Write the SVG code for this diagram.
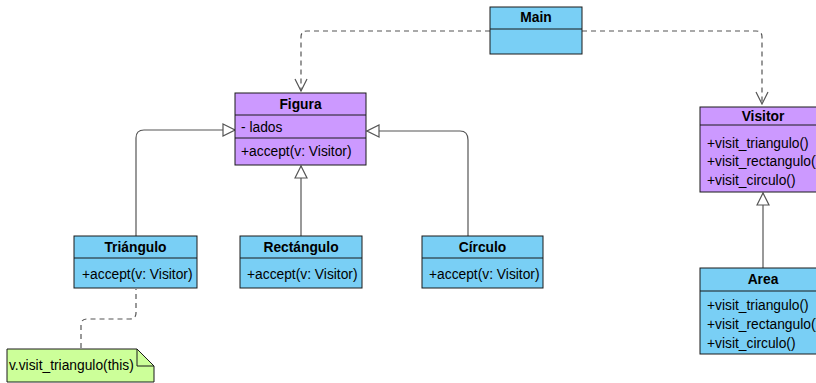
<svg xmlns="http://www.w3.org/2000/svg" width="816" height="383" viewBox="0 0 816 383">
  <style>
    text { font-family: "Liberation Sans", Arial, sans-serif; font-size: 13.8px; fill: #000; }
    .title { font-weight: bold; text-anchor: middle; }
    .blue { fill: #79CFF5; stroke: #1a1a1a; stroke-width: 1; }
    .purple { fill: #CC99FF; stroke: #1a1a1a; stroke-width: 1; }
    .note { fill: #CCFF99; stroke: #1a1a1a; stroke-width: 1; }
    .sep { stroke: #1a1a1a; stroke-width: 1; fill: none; }
    .inherit { fill: none; stroke: #555; stroke-width: 1.2; marker-end: url(#hollow); }
    .dep { fill: none; stroke: #555; stroke-width: 1.2; stroke-dasharray: 5 4; marker-end: url(#open); }
    .link { fill: none; stroke: #555; stroke-width: 1.2; stroke-dasharray: 5 4; }
  </style>
  <defs>
    <marker id="hollow" viewBox="0 0 14 14" refX="13" refY="7" markerWidth="14" markerHeight="14" markerUnits="userSpaceOnUse" orient="auto">
      <path d="M1,1 L13,7 L1,13 Z" fill="#fff" stroke="#555" stroke-width="1.2"/>
    </marker>
    <marker id="open" viewBox="0 0 14 14" refX="13" refY="7" markerWidth="14" markerHeight="14" markerUnits="userSpaceOnUse" orient="auto">
      <path d="M1,1 L13,7 L1,13" fill="none" stroke="#555" stroke-width="1.2"/>
    </marker>
  </defs>

  <g id="connectors">
    <path class="dep" d="M490,31 H307 Q301,31 301,37 V91"/>
    <path class="dep" d="M582,31 H756 Q762,31 762,37 V104"/>
    <path class="inherit" d="M136,236 V138 Q136,130 144,130 H235"/>
    <path class="inherit" d="M301,236 V166"/>
    <path class="inherit" d="M468,236 V140 Q468,131 460,131 H367"/>
    <path class="inherit" d="M763,268 V193"/>
    <path class="link" d="M81,348 V325 Q81,319 87,319 H130 Q136,319 136,313 V289"/>
  </g>

  <g id="main">
    <rect class="blue" x="490" y="7" width="92" height="47"/>
    <line class="sep" x1="490" y1="29" x2="582" y2="29"/>
    <text class="title" x="536" y="22">Main</text>
  </g>

  <g id="figura">
    <rect class="purple" x="235" y="93" width="131" height="72"/>
    <line class="sep" x1="235" y1="115" x2="366" y2="115"/>
    <line class="sep" x1="235" y1="138" x2="366" y2="138"/>
    <text class="title" x="300.5" y="109">Figura</text>
    <text x="241" y="132">- lados</text>
    <text x="241" y="156">+accept(v: Visitor)</text>
  </g>

  <g id="triangulo">
    <rect class="blue" x="74" y="236" width="123" height="52"/>
    <line class="sep" x1="74" y1="258" x2="197" y2="258"/>
    <text class="title" x="135.5" y="252">Triángulo</text>
    <text x="82" y="279">+accept(v: Visitor)</text>
  </g>

  <g id="rectangulo">
    <rect class="blue" x="240" y="236" width="122" height="52"/>
    <line class="sep" x1="240" y1="258" x2="362" y2="258"/>
    <text class="title" x="301" y="252">Rectángulo</text>
    <text x="247" y="279">+accept(v: Visitor)</text>
  </g>

  <g id="circulo">
    <rect class="blue" x="422" y="236" width="121" height="52"/>
    <line class="sep" x1="422" y1="258" x2="543" y2="258"/>
    <text class="title" x="482.5" y="252">Círculo</text>
    <text x="429" y="279">+accept(v: Visitor)</text>
  </g>

  <g id="visitor">
    <rect class="purple" x="700" y="107" width="126" height="85"/>
    <line class="sep" x1="700" y1="125" x2="826" y2="125"/>
    <text class="title" x="763" y="121">Visitor</text>
    <text x="707" y="148">+visit_triangulo()</text>
    <text x="707" y="166">+visit_rectangulo()</text>
    <text x="707" y="185">+visit_circulo()</text>
  </g>

  <g id="area">
    <rect class="blue" x="700" y="268" width="126" height="86"/>
    <line class="sep" x1="700" y1="291" x2="826" y2="291"/>
    <text class="title" x="763" y="284">Area</text>
    <text x="707" y="310">+visit_triangulo()</text>
    <text x="707" y="329">+visit_rectangulo()</text>
    <text x="707" y="348">+visit_circulo()</text>
  </g>

  <g id="note">
    <path class="note" d="M7,349 H137 L154,366 V382 H7 Z"/>
    <path class="sep" d="M137,349 V366 H154"/>
    <text x="9" y="370">v.visit_triangulo(this)</text>
  </g>
</svg>
